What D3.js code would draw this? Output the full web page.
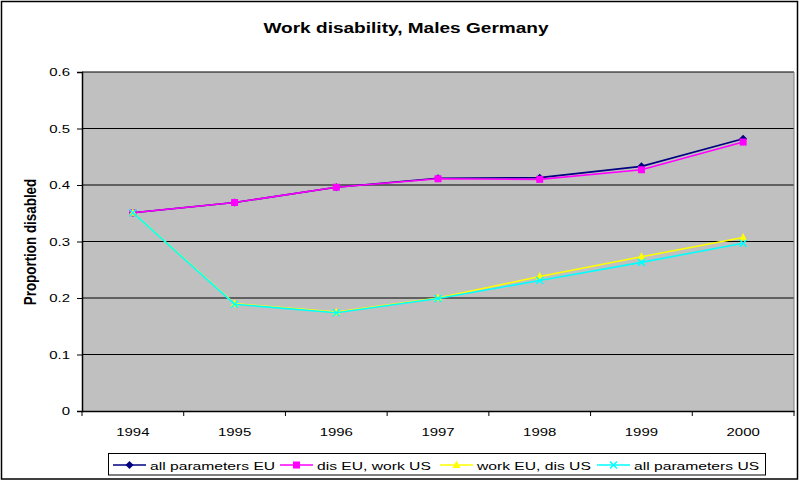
<!DOCTYPE html>
<html><head><meta charset="utf-8">
<script src="https://cdn.jsdelivr.net/npm/d3@7"></script>
<style>body{margin:0;background:#fff}svg{display:block}text{font-family:"Liberation Sans",Arial,sans-serif}</style>
</head><body><svg id="c" width="800" height="481"></svg>
<script>
const years = ["1994","1995","1996","1997","1998","1999","2000"];
const allEU   = [0.351,0.369,0.396,0.412,0.413,0.433,0.482];
const disEU   = [0.351,0.369,0.396,0.411,0.410,0.427,0.476];
const workEU  = [0.351,0.190,0.175,0.200,0.238,0.273,0.307];
const allUS   = [0.351,0.189,0.174,0.199,0.231,0.263,0.297];
const seriesNames = ["all parameters EU","dis EU, work US","work EU, dis US","all parameters US"];
const yTicks = [0,0.1,0.2,0.3,0.4,0.5,0.6];

const series = [
  {name:seriesNames[0], values:allEU, color:"#000080", sym:"diamond"},
  {name:seriesNames[1], values:disEU, color:"#FF00FF", sym:"square"},
  {name:seriesNames[2], values:workEU, color:"#FFFF00", sym:"triangle"},
  {name:seriesNames[3], values:allUS, color:"#00FFFF", sym:"x"}
];

const K = 1.3; // horizontal stretch of the reference text
function stretch(sel,k){
  sel.each(function(){
    const w=this.getComputedTextLength();
    d3.select(this).attr("textLength",w*k).attr("lengthAdjust","spacingAndGlyphs");
  });
}

const svg = d3.select("#c");
svg.append("rect").attr("x",1.5).attr("y",1.5).attr("width",796).attr("height",477.5)
  .attr("fill","#fff").attr("stroke","#000").attr("stroke-width",1.5);

const L=82,R=794,T=72,B=411;
const x = d3.scaleBand().domain(years).range([L,R]);
const y = d3.scaleLinear().domain([0,0.6]).range([B,T]);

svg.append("rect").attr("x",L).attr("y",T).attr("width",R-L).attr("height",B-T).attr("fill","#C0C0C0");

svg.append("g").selectAll("line").data(yTicks.filter(d=>d>0)).join("line")
  .attr("x1",L).attr("x2",R).attr("y1",d=>y(d)).attr("y2",d=>y(d))
  .attr("stroke","#000").attr("stroke-width",1.2);
svg.append("line").attr("x1",R).attr("x2",R).attr("y1",T).attr("y2",B).attr("stroke","#808080");

const ya = svg.append("g").attr("transform",`translate(${L},0)`)
  .call(d3.axisLeft(y).tickValues(yTicks).tickFormat(d=>d===0?"0":d3.format(".1f")(d)).tickSize(5).tickPadding(7));
ya.select(".domain").attr("stroke","#000").attr("stroke-width",1.5);
ya.selectAll("line").attr("stroke","#000");
ya.selectAll("text").attr("font-size",11.5).attr("fill","#000").style("font-family","Liberation Sans, Arial").call(stretch,K);

const xa = svg.append("g").attr("transform",`translate(0,${B})`)
  .call(d3.axisBottom(x).tickSize(0).tickPadding(17));
xa.select(".domain").attr("stroke","#000").attr("stroke-width",1.5);
xa.selectAll("text").attr("font-size",11.5).attr("fill","#000").style("font-family","Liberation Sans, Arial").call(stretch,K);
svg.append("g").selectAll("line").data(d3.range(years.length+1)).join("line")
  .attr("x1",i=>L+i*x.step()).attr("x2",i=>L+i*x.step())
  .attr("y1",B).attr("y2",B+5).attr("stroke","#000");

svg.append("text").attr("x",406).attr("y",33).attr("text-anchor","middle")
  .attr("font-size",15).attr("font-weight","bold").text("Work disability, Males Germany").call(stretch,1.27);
svg.append("text").attr("transform","translate(36,242) rotate(-90) scale(1,1.3)").attr("text-anchor","middle")
  .attr("font-size",13.4).attr("font-weight","bold").text("Proportion disabled");

function marker(g, sym, color, cx, cy){
  if(sym==="diamond"){
    g.append("path").attr("d",`M${cx},${cy-4}L${cx+4},${cy}L${cx},${cy+4}L${cx-4},${cy}Z`).attr("fill",color);
  } else if(sym==="square"){
    g.append("rect").attr("x",cx-3.5).attr("y",cy-3.5).attr("width",7).attr("height",7).attr("fill",color);
  } else if(sym==="triangle"){
    g.append("path").attr("d",`M${cx},${cy-4.5}L${cx+4},${cy+3}L${cx-4},${cy+3}Z`).attr("fill",color);
  } else {
    g.append("path").attr("d",`M${cx-3.5},${cy-3.5}L${cx+3.5},${cy+3.5}M${cx+3.5},${cy-3.5}L${cx-3.5},${cy+3.5}`)
      .attr("stroke",color).attr("stroke-width",1.5);
  }
}

const line = d3.line().x((d,i)=>x(years[i])+x.bandwidth()/2).y(d=>y(d));
series.forEach(s=>{
  const g = svg.append("g");
  g.append("path").attr("d",line(s.values)).attr("fill","none").attr("stroke",s.color).attr("stroke-width",1.6);
  s.values.forEach((v,i)=>marker(g,s.sym,s.color,x(years[i])+x.bandwidth()/2,y(v)));
});

const lg = svg.append("g");
lg.append("rect").attr("x",108.5).attr("y",453.5).attr("width",657).attr("height",21.5)
  .attr("fill","#fff").attr("stroke","#000");
const offs=[113,280,440,597];
series.forEach((s,i)=>{
  const x0=offs[i], yy=465;
  lg.append("line").attr("x1",x0).attr("x2",x0+33).attr("y1",yy).attr("y2",yy).attr("stroke",s.color).attr("stroke-width",1.6);
  marker(lg,s.sym,s.color,x0+16.5,yy);
  lg.append("text").attr("x",x0+37).attr("y",yy+4.5).attr("font-size",11.5).text(s.name).call(stretch,1.36);
});
</script></body></html>
